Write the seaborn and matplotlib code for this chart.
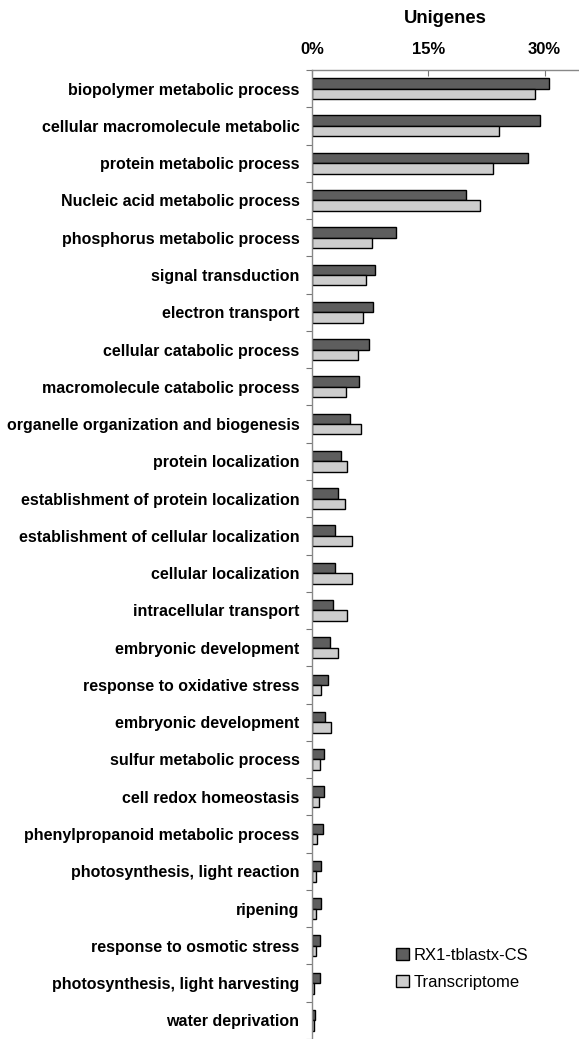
import matplotlib
matplotlib.use("Agg")
import matplotlib.pyplot as plt
import seaborn as sns
import pandas as pd
import numpy as np

categories = [
    "biopolymer metabolic process",
    "cellular macromolecule metabolic",
    "protein metabolic process",
    "Nucleic acid metabolic process",
    "phosphorus metabolic process",
    "signal transduction",
    "electron transport",
    "cellular catabolic process",
    "macromolecule catabolic process",
    "organelle organization and biogenesis",
    "protein localization",
    "establishment of protein localization",
    "establishment of cellular localization",
    "cellular localization",
    "intracellular transport",
    "embryonic development",
    "response to oxidative stress",
    "embryonic development",
    "sulfur metabolic process",
    "cell redox homeostasis",
    "phenylpropanoid metabolic process",
    "photosynthesis, light reaction",
    "ripening",
    "response to osmotic stress",
    "photosynthesis, light harvesting",
    "water deprivation",
]
rx1 = [30.6, 29.4, 27.9, 19.8, 10.8, 8.1, 7.9, 7.3, 6.0, 4.9, 3.7, 3.3, 3.0,
       3.0, 2.7, 2.3, 2.1, 1.7, 1.6, 1.5, 1.4, 1.1, 1.1, 1.0, 1.0, 0.4]
transcriptome = [28.8, 24.1, 23.4, 21.6, 7.8, 7.0, 6.6, 5.9, 4.4, 6.3, 4.5, 4.2, 5.1,
                 5.2, 4.5, 3.3, 1.1, 2.4, 1.0, 0.9, 0.7, 0.5, 0.5, 0.5, 0.3, 0.3]
series_names = ["RX1-tblastx-CS", "Transcriptome"]
xticks = [0, 15, 30]
xtick_labels = ["0%", "15%", "30%"]

sns.set_theme(style="white")
plt.rcParams['font.family'] = ['Liberation Sans', 'DejaVu Sans']
plt.rcParams['text.color'] = 'black'
plt.rcParams['xtick.color'] = 'black'
plt.rcParams['ytick.color'] = 'black'
plt.rcParams['axes.labelcolor'] = 'black'

ids = [f"r{i}" for i in range(len(categories))]
df = pd.DataFrame({
    "row": ids * 2,
    "value": rx1 + transcriptome,
    "series": [series_names[0]] * len(ids) + [series_names[1]] * len(ids),
})

fig = plt.figure(figsize=(5.79, 10.39), dpi=100)
ax = fig.add_axes([312 / 579, 0.0, 266 / 579, 969 / 1039])

sns.barplot(data=df, x="value", y="row", hue="series", order=ids,
            hue_order=series_names, palette=["#5e5e5e", "#cdcdcd"],
            orient="h", width=0.56, edgecolor="black", linewidth=1.0,
            saturation=1, ax=ax)

ax.set_xlim(0, 34.3)
ax.set_ylim(len(ids) - 0.5, -0.5)

ax.xaxis.set_ticks_position("top")
ax.xaxis.set_label_position("top")
ax.set_xticks(xticks)
ax.set_xticklabels(xtick_labels, fontsize=12, fontweight="bold")
ax.tick_params(axis="x", which="major", direction="in", length=4, width=0.8,
               color="#777777", pad=9)
ax.set_xlabel("Unigenes", fontsize=13.3, fontweight="bold", labelpad=14)

ax.set_yticks(np.arange(len(ids)))
ax.set_yticklabels(categories, fontsize=11.5, fontweight="bold")
ax.set_yticks(np.arange(len(ids) + 1) - 0.5, minor=True)
ax.tick_params(axis="y", which="major", length=0, pad=9)
ax.tick_params(axis="y", which="minor", left=True, length=4, width=0.8,
               color="#777777")
ax.set_ylabel("")

for s in ["right", "bottom"]:
    ax.spines[s].set_visible(False)
for s in ["top", "left"]:
    ax.spines[s].set_color("#888888")
    ax.spines[s].set_linewidth(1.0)

leg = ax.legend(loc="lower left", bbox_to_anchor=(0.26, 0.035), frameon=False,
                fontsize=12, handlelength=0.75, handleheight=0.75,
                handletextpad=0.3, labelspacing=0.75)
for h in leg.legend_handles:
    h.set_edgecolor("black")

fig.savefig("out.png", dpi=100)
